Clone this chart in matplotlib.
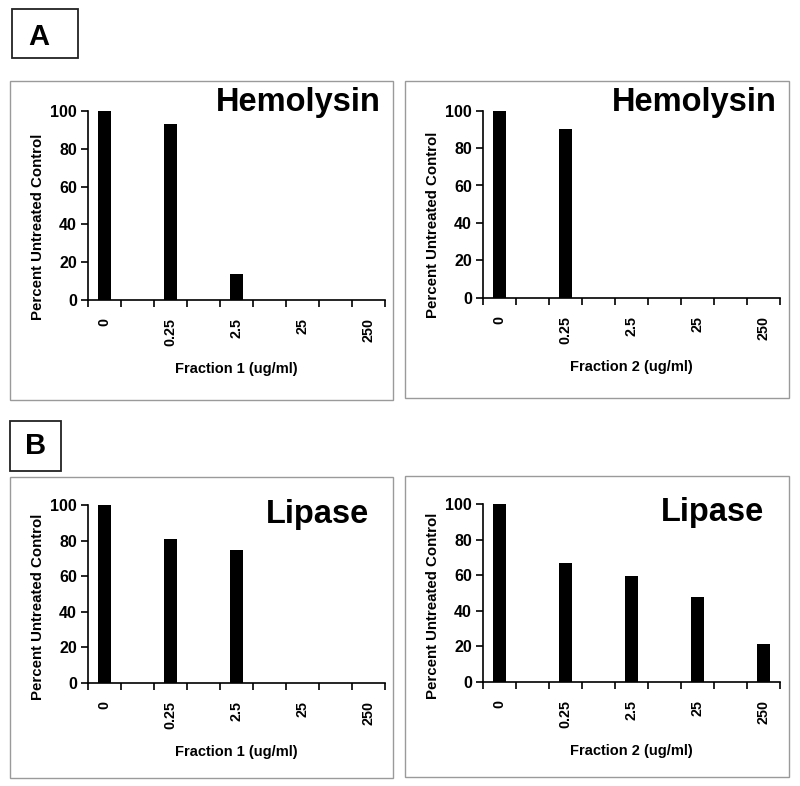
import matplotlib
matplotlib.use("Agg")
import matplotlib.pyplot as plt
from matplotlib.patches import Rectangle
import numpy as np

plt.rcParams["font.family"] = ["Liberation Sans", "DejaVu Sans"]
plt.rcParams["font.weight"] = "bold"

# data
doses = ["0", "0.25", "2.5", "25", "250"]
hemolysin_f1 = [100, 93, 14, 0, 0]
hemolysin_f2 = [100, 90, 0, 0, 0]
lipase_f1 = [100, 81, 75, 0, 0]
lipase_f2 = [100, 67, 59.5, 48, 21]
yticks = [0, 20, 40, 60, 80, 100]

W, H = 800, 786
fig = plt.figure(figsize=(W / 100, H / 100), dpi=100)


def fx(px):
    return px / W


def fy(py):
    return 1 - py / H


def box(l, t, r, b, color, lw):
    fig.add_artist(Rectangle((fx(l), fy(b)), fx(r) - fx(l), fy(t) - fy(b),
                             transform=fig.transFigure, fill=False,
                             edgecolor=color, linewidth=lw))


def panel(rect, values, xlabel, title, title_xy, ylab_y):
    l, t, r, b = rect
    ax = fig.add_axes([fx(l), fy(b), fx(r) - fx(l), fy(t) - fy(b)])
    # 9 category slots, bars in every other one (Excel style blank categories)
    pos = np.arange(len(values)) * 2
    ax.bar(pos, values, width=0.42, color="black")
    ax.set_xlim(-0.5, 2 * len(values) - 1.5)
    ax.set_ylim(0, 100)
    ax.set_yticks(yticks)
    ax.set_xticks(pos)
    ax.set_xticklabels(doses, rotation=90, fontsize=10.3, fontweight="bold")
    ax.set_xticks(np.arange(-0.5, 2 * len(values) - 1, 1.0), minor=True)
    ax.tick_params(axis="x", which="major", length=0, pad=13)
    ax.tick_params(axis="x", which="minor", length=5, width=1.2, direction="out")
    ax.tick_params(axis="y", length=5, width=1.2, pad=3, labelsize=11.5)
    for lab in ax.get_yticklabels():
        lab.set_fontweight("bold")
    for s in ["top", "right"]:
        ax.spines[s].set_visible(False)
    for s in ["left", "bottom"]:
        ax.spines[s].set_linewidth(1.2)
    hpx = b - t
    wpx = r - l
    ax.set_ylabel("Percent Untreated Control", fontsize=10.8, fontweight="bold")
    ax.yaxis.set_label_coords(-50 / wpx, ylab_y)
    ax.yaxis.label.set_va("center")
    ax.set_xlabel(xlabel, fontsize=10.5, fontweight="bold")
    ax.xaxis.set_label_coords(0.5, -69 / hpx)
    ax.xaxis.label.set_va("center")
    fig.text(fx(title_xy[0]), fy(title_xy[1]), title, fontsize=23.5,
             fontweight="bold", ha="right", va="baseline")
    return ax


# panel frames
box(10, 81, 393, 400, "#9a9a9a", 1.0)
box(405, 81, 789, 398, "#9a9a9a", 1.0)
box(10, 477, 393, 778, "#9a9a9a", 1.0)
box(405, 476, 789, 777, "#9a9a9a", 1.0)

# letter boxes
box(12, 9, 78, 58, "#222222", 1.3)
fig.text(fx(38.5), fy(37), "A", fontsize=21, fontweight="bold", ha="center", va="center")
box(10, 421, 61, 471, "#222222", 1.3)
fig.text(fx(36), fy(446), "B", fontsize=21, fontweight="bold", ha="center", va="center")

panel((88, 111, 385, 300), hemolysin_f1, "Fraction 1 (ug/ml)", "Hemolysin", (381, 111), 0.387)
panel((483, 110.7, 780, 297.7), hemolysin_f2, "Fraction 2 (ug/ml)", "Hemolysin", (777, 111), 0.389)
panel((88, 505, 385, 683), lipase_f1, "Fraction 1 (ug/ml)", "Lipase", (369, 523), 0.43)
panel((483, 504.3, 780, 681.7), lipase_f2, "Fraction 2 (ug/ml)", "Lipase", (764, 521), 0.427)

fig.savefig("out.png", dpi=100)
